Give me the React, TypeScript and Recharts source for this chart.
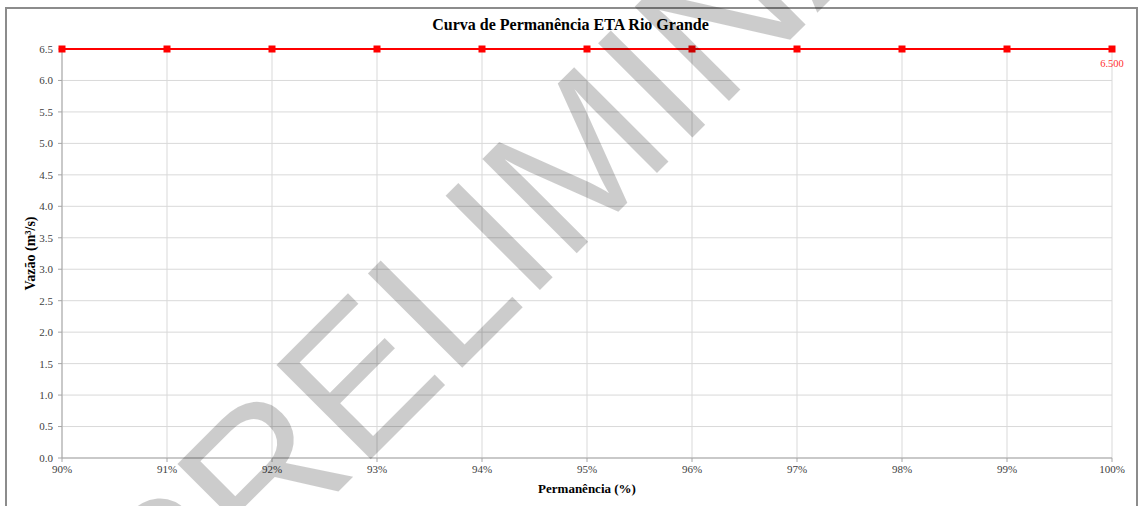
import React from 'react';
import {
  LineChart,
  Line,
  XAxis,
  YAxis,
  CartesianGrid,
  LabelList,
} from 'recharts';

// Permanência (%) e vazão (m³/s)
const permanencia = [90, 91, 92, 93, 94, 95, 96, 97, 98, 99, 100];
const vazao = [6.5, 6.5, 6.5, 6.5, 6.5, 6.5, 6.5, 6.5, 6.5, 6.5, 6.5];
const yTicks = [0, 0.5, 1, 1.5, 2, 2.5, 3, 3.5, 4, 4.5, 5, 5.5, 6, 6.5];

const data = permanencia.map((p, i) => ({ p, q: vazao[i] }));

const serif = '"Liberation Serif", "Times New Roman", serif';

const SquareDot = (props: any) => {
  const { cx, cy } = props;
  if (cx == null || cy == null) return null;
  return <rect x={cx - 3.5} y={cy - 3.5} width={7} height={7} fill="#ff0000" />;
};

const LastLabel = (props: any) => {
  const { x, y, value, index } = props;
  if (index !== data.length - 1) return null;
  return (
    <text
      x={x}
      y={y + 18}
      textAnchor="middle"
      fill="#ff3030"
      fontSize={10.5}
      fontFamily={serif}
    >
      {Number(value).toFixed(3)}
    </text>
  );
};

const App: React.FC = () => {
  return (
    <div
      style={{
        position: 'absolute',
        left: 0,
        top: 0,
        width: 1141,
        height: 506,
        background: '#fff',
        overflow: 'hidden',
      }}
    >
      <div
        style={{
          position: 'absolute',
          left: 5,
          top: 7,
          width: 1129,
          height: 520,
          borderLeft: '2px solid #8c8c8c',
          borderTop: '2px solid #8c8c8c',
          borderRight: '2px solid #8c8c8c',
        }}
      />
      <div
        style={{
          position: 'absolute',
          left: 0,
          top: 16,
          width: 1141,
          textAlign: 'center',
          fontFamily: serif,
          fontWeight: 'bold',
          fontSize: 16,
          color: '#000',
        }}
      >
        Curva de Permanência ETA Rio Grande
      </div>
      <LineChart
        width={1141}
        height={506}
        data={data}
        margin={{ top: 49, right: 29, left: 0, bottom: 0 }}
        style={{ position: 'absolute', left: 0, top: 0 }}
      >
        <CartesianGrid stroke="#d9d9d9" />
        <XAxis
          dataKey="p"
          type="number"
          domain={[90, 100]}
          ticks={permanencia}
          tickFormatter={(v) => `${v}%`}
          height={48}
          stroke="#a6a6a6"
          tickSize={4}
          tickMargin={3}
          tick={{ fill: '#404040', fontSize: 11, fontFamily: serif }}
          label={{
            value: 'Permanência (%)',
            position: 'insideBottom',
            offset: 13,
            style: { fontFamily: serif, fontWeight: 'bold', fontSize: 13, fill: '#000' },
          }}
        />
        <YAxis
          type="number"
          domain={[0, 6.5]}
          ticks={yTicks}
          tickFormatter={(v) => v.toFixed(1)}
          width={62}
          stroke="#a6a6a6"
          tickSize={4}
          tickMargin={5}
          tick={{ fill: '#404040', fontSize: 11, fontFamily: serif }}
          label={{
            value: 'Vazão (m³/s)',
            angle: -90,
            position: 'insideLeft',
            offset: 30,
            style: {
              textAnchor: 'middle',
              fontFamily: serif,
              fontWeight: 'bold',
              fontSize: 14,
              fill: '#000',
            },
          }}
        />
        <Line
          dataKey="q"
          stroke="#ff0000"
          strokeWidth={2}
          dot={<SquareDot />}
          activeDot={false}
          isAnimationActive={false}
        >
          <LabelList dataKey="q" content={<LastLabel />} />
        </Line>
      </LineChart>
      <svg
        width={1141}
        height={506}
        style={{ position: 'absolute', left: 0, top: 0, pointerEvents: 'none' }}
      >
        <text
          x={169}
          y={661}
          transform="rotate(-45 169 661)"
          fontFamily='"Liberation Sans", Arial, sans-serif'
          fontSize={194}
          fill="#000"
          fillOpacity={0.2}
        >
          PRELIMINAR
        </text>
      </svg>
    </div>
  );
};

export default App;
